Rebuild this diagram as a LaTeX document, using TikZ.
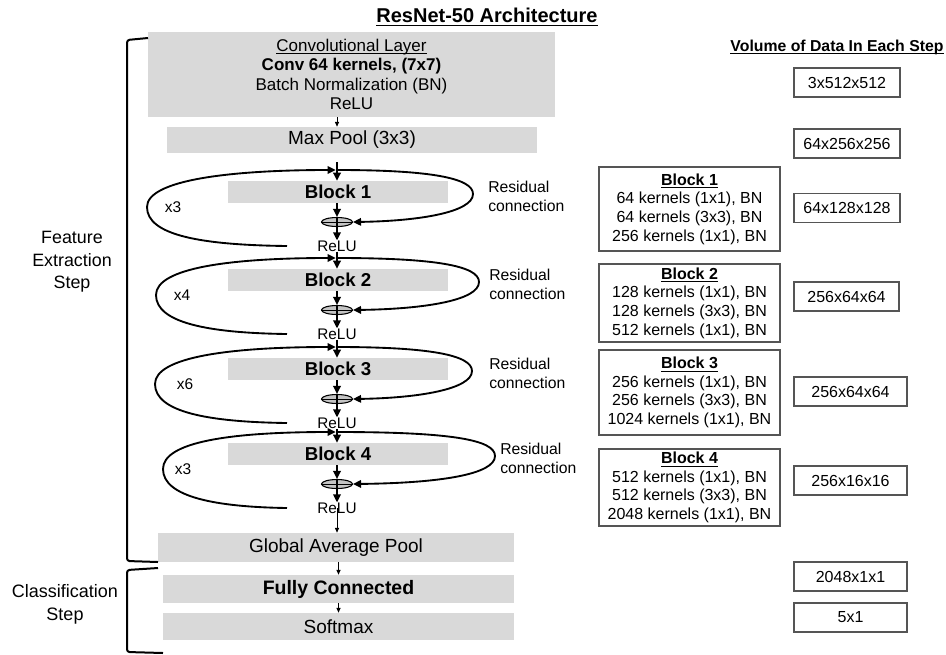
\documentclass[tikz,border=0pt]{standalone}
\usepackage{fontspec}
\setmainfont{Liberation Sans}
\usetikzlibrary{arrows.meta,shapes.geometric}
\definecolor{boxgray}{HTML}{D9D9D9}
\definecolor{plusgray}{HTML}{C4C4C4}
\definecolor{edgegray}{HTML}{555555}
% underline with a rule of a set thickness
\newcommand\mkul[1]{\begingroup\setbox0=\hbox{#1}\rlap{\rule[-2.2pt]{\wd0}{0.8pt}}\box0\endgroup}

\begin{document}
\begin{tikzpicture}[x=0.75pt,y=-0.75pt,
  graybox/.style={fill=boxgray, draw=none, inner sep=0pt, align=center},
  txt/.style={inner sep=0pt, align=center},
  detail/.style={draw=edgegray, line width=1pt, fill=white, inner sep=0pt, align=center,
    minimum width=181*0.75pt, font=\fontsize{12pt}{14pt}\selectfont},
  vol/.style={draw=edgegray, line width=1pt, fill=white, inner sep=0pt,
    minimum height=29*0.75pt, font=\fontsize{12pt}{14pt}\selectfont},
  plusnode/.style={ellipse, draw=black, line width=0.8pt, fill=plusgray, inner sep=0pt,
    minimum width=31*0.75pt, minimum height=9*0.75pt},
  relu/.style={inner sep=0pt, font=\fontsize{11.5pt}{13pt}\selectfont},
  loopline/.style={line width=1.4pt},
  thickarrow/.style={line width=1.4pt, -{Triangle[length=6pt,width=5.6pt]}},
  thinarrow/.style={line width=0.7pt, -{Triangle[length=3.6pt,width=3pt]}},
  brace/.style={line width=1.5pt, rounded corners=2pt},
]
\useasboundingbox (0,0) rectangle (946,654);
\fill[white] (0,0) rectangle (946,654);

% title
\node[txt, font=\fontsize{15pt}{18pt}\selectfont\bfseries] (title) at (487,17) {\mkul{ResNet-50 Architecture}};

% stem of the network
\node[graybox, minimum width=407*0.75pt, minimum height=85*0.75pt,
  font=\fontsize{12.75pt}{14.6pt}\selectfont] (conv) at (351.5,74.5)
  {\mkul{Convolutional Layer}\\ \textbf{Conv 64 kernels, (7x7)}\\ Batch Normalization (BN)\\ ReLU};
\node[graybox, minimum width=370*0.75pt, minimum height=26*0.75pt,
  font=\fontsize{14.25pt}{16pt}\selectfont] (pool) at (352,140) {Max Pool (3x3)};

% residual stages
\foreach \i/\T/\lx/\rx/\rlx/\lab/\labx in
  {1/170/147/473/488/x3/173, 2/258/156/479/489/x4/182, 3/347/155/472/489/x6/185, 4/432/163/495/500/x3/183} {
  \coordinate (top\i) at (337,\T);
  \coordinate (lstart\i) at (287,{\T+76});
  \node[graybox, minimum width=220*0.75pt, minimum height=22*0.75pt,
    font=\fontsize{14pt}{16pt}\selectfont\bfseries] (blk\i) at (338,{\T+22}) {Block \i};
  \node[plusnode] (add\i) at (337,{\T+52}) {};
  \draw[line width=0.7pt] (add\i.west) -- (add\i.east);
  \draw[line width=1pt] (add\i.north) -- (add\i.south);
  \node[relu] (relu\i) at (337,{\T+76}) {ReLU};
  \draw[thickarrow] (blk\i.south -| top\i) -- (add\i.north);
  \draw[thickarrow] (add\i.south) -- (relu\i.north);
  % repetition loop on the left
  \draw[loopline, -{Triangle[length=6pt,width=5.6pt]}] (lstart\i)
    .. controls ({\lx+53},{\T+75}) and (\lx,{\T+65}) .. (\lx,{\T+37})
    .. controls (\lx,{\T+10}) and (230,\T) .. ([xshift=-1pt]top\i);
  % residual connection on the right
  \draw[loopline, -{Triangle[length=6pt,width=5.6pt]}] (top\i)
    .. controls ({\rx-43},\T) and (\rx,{\T+8}) .. (\rx,{\T+24})
    .. controls (\rx,{\T+42}) and ({\rx-53},{\T+51}) .. (add\i.east);
  \node[txt, font=\fontsize{11.6pt}{13pt}\selectfont] (rep\i) at (\labx,{\T+37}) {\lab};
  \node[anchor=west, inner sep=0pt, align=left, font=\fontsize{11.8pt}{14.25pt}\selectfont]
    (res\i) at (\rlx,{\T+26}) {Residual\\connection};
}

% head of the network
\node[graybox, minimum width=356*0.75pt, minimum height=29*0.75pt,
  font=\fontsize{14.25pt}{16pt}\selectfont] (gap) at (336,547.5) {Global Average Pool};
\node[graybox, minimum width=351*0.75pt, minimum height=28*0.75pt,
  font=\fontsize{14.6pt}{16pt}\selectfont\bfseries] (fc) at (338.5,589) {Fully Connected};
\node[graybox, minimum width=351*0.75pt, minimum height=27*0.75pt,
  font=\fontsize{14.25pt}{16pt}\selectfont] (soft) at (338.5,626.5) {Softmax};

% main flow
\coordinate (mp) at (337,162);
\draw[thinarrow] (conv.south -| top1) -- (pool.north -| top1);
\draw[thickarrow] (mp) -- (blk1.north -| top1);
\draw[thickarrow] (relu1.south) -- (blk2.north -| top1);
\draw[thickarrow] (relu2.south) -- (blk3.north -| top1);
\draw[thickarrow] (relu3.south) -- (blk4.north -| top1);
\draw[thinarrow] (relu4.center) -- (gap.north -| top1);
\draw[thinarrow] (gap.south -| fc.center) -- (fc.north);
\draw[thinarrow] (fc.south) -- (soft.north);

% step brackets
\draw[brace] (148,38) -- (127,40) -- (127,561) -- (158,562);
\draw[brace] (158,568) -- (127,570) -- (127,652) -- (163,653);
\node[txt, font=\fontsize{13.4pt}{16.9pt}\selectfont] (fe) at (72,262) {Feature\\Extraction\\Step};
\node[txt, font=\fontsize{13.5pt}{17.25pt}\selectfont] (cl) at (65,604) {Classification\\Step};

% bottleneck contents
\node[detail, minimum height=84*0.75pt] (d1) at (689.5,209)
  {\textbf{\mkul{Block 1}}\\64 kernels (1x1), BN\\64 kernels (3x3), BN\\256 kernels (1x1), BN};
\node[detail, minimum height=78*0.75pt] (d2) at (689.5,303)
  {\textbf{\mkul{Block 2}}\\128 kernels (1x1), BN\\128 kernels (3x3), BN\\512 kernels (1x1), BN};
\node[detail, minimum height=85*0.75pt] (d3) at (689.5,392.5)
  {\textbf{\mkul{Block 3}}\\256 kernels (1x1), BN\\256 kernels (3x3), BN\\1024 kernels (1x1), BN};
\node[detail, minimum height=77*0.75pt] (d4) at (689.5,487.5)
  {\textbf{\mkul{Block 4}}\\512 kernels (1x1), BN\\512 kernels (3x3), BN\\2048 kernels (1x1), BN};

% data volume per step
\node[txt, font=\fontsize{11.85pt}{14pt}\selectfont\bfseries] (volhead) at (837,47) {\mkul{Volume of Data In Each Step}};
\node[vol, minimum width=106*0.75pt] (v1) at (847,82.5) {3x512x512};
\node[vol, minimum width=106*0.75pt] (v2) at (847,143.5) {64x256x256};
\node[vol, minimum width=106*0.75pt] (v3) at (847,208) {64x128x128};
\node[vol, minimum width=105*0.75pt] (v4) at (846.5,296.5) {256x64x64};
\node[vol, minimum width=113*0.75pt] (v5) at (850.5,391.5) {256x64x64};
\node[vol, minimum width=113*0.75pt] (v6) at (850.5,480.5) {256x16x16};
\node[vol, minimum width=113*0.75pt] (v7) at (850.5,576.5) {2048x1x1};
\node[vol, minimum width=113*0.75pt] (v8) at (850.5,617.5) {5x1};
\end{tikzpicture}
\end{document}
